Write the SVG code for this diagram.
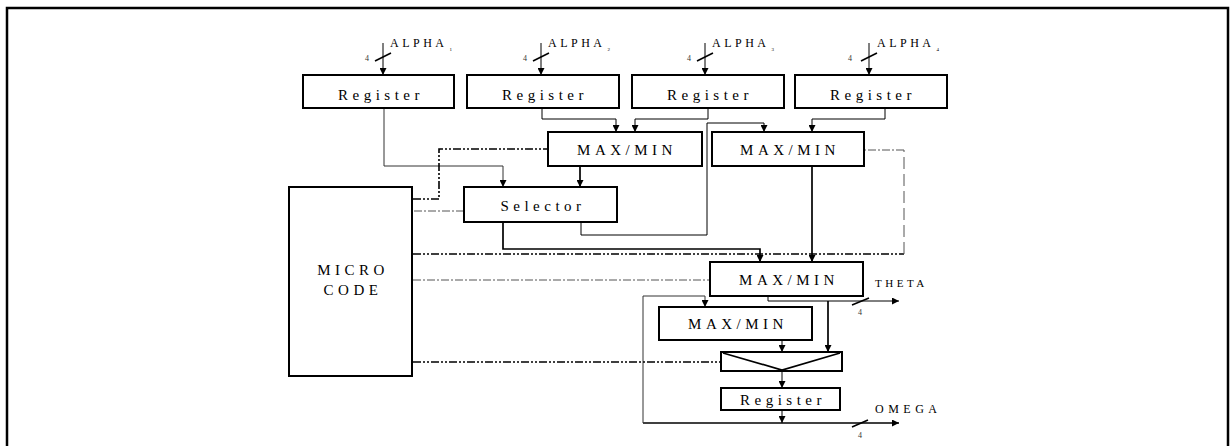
<svg xmlns="http://www.w3.org/2000/svg" width="1231" height="446" viewBox="0 0 1231 446">
<defs>
<marker id="ah" markerWidth="7" markerHeight="7" refX="7" refY="3.5" orient="auto" markerUnits="userSpaceOnUse"><path d="M0,0 L7,3.5 L0,7 z" fill="#000"/></marker>
</defs>
<style>
.box{fill:#fff;stroke:#000;stroke-width:2}
.lbl{font-family:"Liberation Serif","Times New Roman",serif;font-size:15px;fill:#000;text-anchor:middle;letter-spacing:4.5px}
.sig{font-family:"Liberation Serif","Times New Roman",serif;font-size:12px;fill:#000;letter-spacing:3.5px}
.num{font-family:"Liberation Serif","Times New Roman",serif;font-size:8px;fill:#333}
.sub{font-size:5px;letter-spacing:0}
.w{fill:none;stroke:#000;stroke-width:1}
.wb{fill:none;stroke:#000;stroke-width:1.7}
.g{fill:none;stroke:#333;stroke-width:1}
.sl{fill:none;stroke:#000;stroke-width:1.6}
.dd{fill:none;stroke:#000;stroke-width:1.6;stroke-dasharray:8 2 2 2 2 2}
.dt{fill:none;stroke:#555;stroke-width:1;stroke-dasharray:8 2 2 2}
.ld{fill:none;stroke:#555;stroke-width:1;stroke-dasharray:12 5}
</style>
<rect x="0" y="0" width="1231" height="446" fill="#fff"/>
<rect x="7" y="8" width="1221" height="460" fill="#fff" stroke="#000" stroke-width="2.5"/>

<g id="connectors">
  <!-- ALPHA inputs -->
  <path class="w" d="M383,43 V75" marker-end="url(#ah)"/>
  <path class="w" d="M541,43 V75" marker-end="url(#ah)"/>
  <path class="w" d="M705,43 V75" marker-end="url(#ah)"/>
  <path class="w" d="M869,43 V75" marker-end="url(#ah)"/>
  <path class="sl" d="M375,61 L391,53 M533,61 L549,53 M697,61 L713,53 M861,61 L877,53"/>
  <!-- register outputs -->
  <path class="g" d="M384,108 V166 H503 V187" marker-end="url(#ah)"/>
  <path class="w" d="M542,108 V119 H616 V132" marker-end="url(#ah)"/>
  <path class="w" d="M708,108 V119 H635 V132" marker-end="url(#ah)"/>
  <path class="w" d="M885,108 V119 H812 V132" marker-end="url(#ah)"/>
  <path class="wb" d="M580,166 V187" marker-end="url(#ah)"/>
  <path class="w" d="M581,222 V235 H707 V123 H764 V132" marker-end="url(#ah)"/>
  <path class="wb" d="M503,222 V249 H760 V262" marker-end="url(#ah)"/>
  <path class="wb" d="M812,166 V262" marker-end="url(#ah)"/>
  <!-- lower section -->
  <path class="w" d="M768,296 V301 H899" marker-end="url(#ah)"/>
  <path class="wb" d="M828,301 V352" marker-end="url(#ah)"/>
  <path class="w" d="M782,340 V352" marker-end="url(#ah)"/>
  <path class="w" d="M782,371 V388" marker-end="url(#ah)"/>
  <path class="w" d="M782,410 V423" marker-end="url(#ah)"/>
  <path class="wb" d="M643,423 H899" marker-end="url(#ah)"/>
  <path class="g" d="M643,423 V296 H705 V307" marker-end="url(#ah)"/>
  <path class="sl" d="M852,305 L869,298 M852,427 L868,420"/>
  <!-- micro code control lines -->
  <path class="dd" d="M413,199 H439 V149 H548"/>
  <path class="dt" d="M414,211 H464"/>
  <path class="dd" d="M413,254 H904"/>
  <path class="ld" d="M904,254 V150"/>
  <path class="dt" d="M904,150 H864"/>
  <path class="dt" d="M413,280 H710"/>
  <path class="dd" d="M413,362 H721"/>
</g>

<g id="labels">
  <text class="sig" x="390" y="47">ALPHA<tspan class="sub" dy="4" dx="2">1</tspan></text>
  <text class="sig" x="548" y="47">ALPHA<tspan class="sub" dy="4" dx="2">2</tspan></text>
  <text class="sig" x="712" y="47">ALPHA<tspan class="sub" dy="4" dx="2">3</tspan></text>
  <text class="sig" x="877" y="47">ALPHA<tspan class="sub" dy="4" dx="2">4</tspan></text>
  <text class="num" x="365" y="61">4</text>
  <text class="num" x="523" y="61">4</text>
  <text class="num" x="687" y="61">4</text>
  <text class="num" x="848" y="61">4</text>
  <text class="sig" x="875" y="287" style="font-size:11px;letter-spacing:3.5px">THETA</text>
  <text class="num" x="858" y="315">4</text>
  <text class="sig" x="875" y="413" style="font-size:12px;letter-spacing:4.5px">OMEGA</text>
  <text class="num" x="858" y="438">4</text>
</g>

<g id="reg1"><rect class="box" x="303" y="75" width="151" height="33"/><text class="lbl" x="381" y="100">Register</text></g>
<g id="reg2"><rect class="box" x="467" y="75" width="152" height="33"/><text class="lbl" x="545" y="100">Register</text></g>
<g id="reg3"><rect class="box" x="632" y="75" width="152" height="33"/><text class="lbl" x="710" y="100">Register</text></g>
<g id="reg4"><rect class="box" x="795" y="75" width="152" height="33"/><text class="lbl" x="873" y="100">Register</text></g>
<g id="maxmin1"><rect class="box" x="548" y="132" width="154" height="34"/><text class="lbl" x="627" y="155">MAX/MIN</text></g>
<g id="maxmin2"><rect class="box" x="712" y="132" width="152" height="34"/><text class="lbl" x="790" y="155">MAX/MIN</text></g>
<g id="selector"><rect class="box" x="464" y="187" width="153" height="35"/><text class="lbl" x="543" y="211">Selector</text></g>
<g id="microcode"><rect class="box" x="289" y="187" width="123" height="189"/><text class="lbl" x="353" y="275">MICRO</text><text class="lbl" x="353" y="295">CODE</text></g>
<g id="maxmin3"><rect class="box" x="710" y="262" width="153" height="34"/><text class="lbl" x="789" y="285">MAX/MIN</text></g>
<g id="maxmin4"><rect class="box" x="659" y="307" width="153" height="33"/><text class="lbl" x="738" y="329">MAX/MIN</text></g>
<g id="mux"><rect class="box" x="721" y="352" width="121" height="19"/><polyline class="wb" points="723,353 782,370 840,353"/></g>
<g id="reg5"><rect class="box" x="721" y="388" width="119" height="22"/><text class="lbl" x="783" y="405">Register</text></g>
</svg>
